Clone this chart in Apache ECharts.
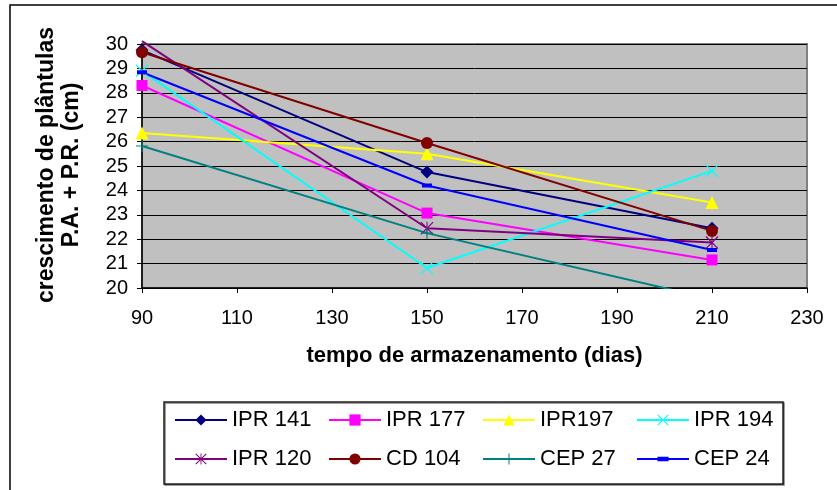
<!DOCTYPE html>
<html>
<head>
<meta charset="utf-8">
<script src="https://cdn.jsdelivr.net/npm/echarts@6/dist/echarts.min.js"></script>
<style>html,body{margin:0;padding:0;background:#fff}#c{width:837px;height:490px}</style>
</head>
<body>
<div id="c"></div>
<script>
const days = [90, 150, 210];
const xTicks = [90, 110, 130, 150, 170, 190, 210, 230];
const yTicks = [20, 21, 22, 23, 24, 25, 26, 27, 28, 29, 30];
const seriesNames = ['IPR 141', 'IPR 177', 'IPR197', 'IPR 194', 'IPR 120', 'CD 104', 'CEP 27', 'CEP 24'];
const ipr141 = [29.75, 24.75, 22.45];
const ipr177 = [28.3, 23.07, 21.15];
const ipr197 = [26.35, 25.5, 23.5];
const ipr194 = [28.9, 20.82, 24.8];
const ipr120 = [30.12, 22.45, 21.86];
const cd104 = [29.66, 25.94, 22.34];
const cep27 = [25.82, 22.25, 19.55];
const cep24 = [28.84, 24.2, 21.56];

const values = [ipr141, ipr177, ipr197, ipr194, ipr120, cd104, cep27, cep24];
const colors = ['#000080', '#FF00FF', '#FFFF00', '#00FFFF', '#800080', '#800000', '#008080', '#0000FF'];
const asterisk = 'path://M9.2,0 L10.8,0 L10.8,20 L9.2,20 Z M0,1.3 L1.3,0 L20,18.7 L18.7,20 Z M18.7,0 L20,1.3 L1.3,20 L0,18.7 Z';
const cross = 'path://M0,1.3 L1.3,0 L20,18.7 L18.7,20 Z M18.7,0 L20,1.3 L1.3,20 L0,18.7 Z';
const plus = 'path://M9.1,0 L10.9,0 L10.9,20 L9.1,20 Z M0,9.1 L20,9.1 L20,10.9 L0,10.9 Z';
const dash = 'path://M0,0 L0.01,0 M20,20 L19.99,20 M0,6 L20,6 L20,14 L0,14 Z';
const symbols = ['diamond', 'rect', 'triangle', cross, asterisk, 'circle', plus, dash];
const sizes = [13, 11, 13, 13, 13, 12, 12, 10];

const yMin = yTicks[0], yMax = yTicks[yTicks.length - 1];

const series = seriesNames.map((n, i) => ({
  name: n,
  type: 'line',
  data: days.map((d, j) => [d, values[i][j]]),
  symbol: symbols[i],
  symbolSize: function (v) { return v[1] > yMax ? 0 : sizes[i]; },
  showAllSymbol: true,
  clip: i !== 4,
  lineStyle: { color: colors[i], width: 2 },
  itemStyle: { color: colors[i] },
  emphasis: { disabled: true },
  animation: false
}));

const legends = seriesNames.map((n, i) => ({
  data: [n],
  orient: 'horizontal',
  left: 174 + 154 * (i % 4),
  top: i < 4 ? 409 : 448,
  itemWidth: 52,
  itemHeight: 14,
  textStyle: { fontFamily: 'Liberation Sans', fontSize: 22, color: '#000' },
  selectedMode: false,
  padding: 0
}));

const chart = echarts.init(document.getElementById('c'));
chart.setOption({
  animation: false,
  backgroundColor: '#fff',
  grid: { left: 142, top: 44, right: 30, bottom: 202, show: true, backgroundColor: '#C0C0C0', borderColor: '#808080', borderWidth: 2 },
  xAxis: {
    type: 'value', min: xTicks[0], max: xTicks[xTicks.length - 1], interval: 20,
    name: 'tempo de armazenamento (dias)', nameLocation: 'middle', nameGap: 57,
    nameTextStyle: { fontFamily: 'Liberation Sans', fontSize: 22, fontWeight: 'bold', color: '#000' },
    axisLine: { show: true, lineStyle: { color: '#000', width: 1.5 } },
    axisTick: { show: true, inside: false, length: 5, lineStyle: { color: '#000' } },
    axisLabel: { fontFamily: 'Liberation Sans', fontSize: 20, color: '#000', margin: 20 },
    splitLine: { show: false }
  },
  yAxis: {
    type: 'value', min: yMin, max: yMax, interval: 1,
    axisLine: { show: true, lineStyle: { color: '#000', width: 1.5 } },
    axisTick: { show: true, inside: false, length: 5, lineStyle: { color: '#000' } },
    axisLabel: { fontFamily: 'Liberation Sans', fontSize: 20, color: '#000', margin: 14 },
    splitLine: { show: true, lineStyle: { color: '#000', width: 1 } }
  },
  legend: legends,
  graphic: [
    { type: 'rect', z: -10, shape: { x: 10, y: 5, width: 840, height: 500 }, style: { fill: '#fff', stroke: '#000', lineWidth: 1.5 } },
    { type: 'rect', z: -5, shape: { x: 164, y: 402, width: 619, height: 82 }, style: { fill: '#fff', stroke: '#222', lineWidth: 1.5, shadowColor: 'rgba(0,0,0,0.5)', shadowOffsetX: 1, shadowOffsetY: 1 } },
    { type: 'text', x: 59, y: 165, rotation: Math.PI / 2,
      style: { text: 'crescimento de plântulas\nP.A. + P.R. (cm)', fontFamily: 'Liberation Sans', fontSize: 23, fontWeight: 'bold', fill: '#000', align: 'center', verticalAlign: 'middle', lineHeight: 25 } }
  ],
  series: series
});
</script>
</body>
</html>
